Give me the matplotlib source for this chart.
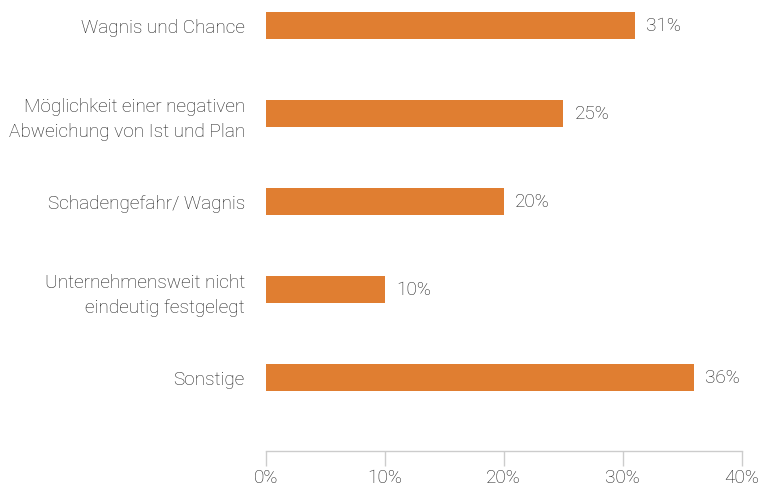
import matplotlib
matplotlib.use("Agg")
import matplotlib.pyplot as plt

categories = [
    "Wagnis und Chance",
    "Möglichkeit einer negativen\nAbweichung von Ist und Plan",
    "Schadengefahr/ Wagnis",
    "Unternehmensweit nicht\neindeutig festgelegt",
    "Sonstige",
]
values = [31, 25, 20, 10, 36]
x_ticks = [0, 10, 20, 30, 40]
x_tick_labels = ["0%", "10%", "20%", "30%", "40%"]

bar_color = "#E07E31"
text_color = "#1E1E1E"
axis_color = "#CCCCCC"

plt.rcParams["font.family"] = ["Roboto", "DejaVu Sans"]
weight = "light"
fsize = 13.7

fig = plt.figure(figsize=(7.79, 4.86), dpi=100)
ax = fig.add_axes([0.341, 0.072, 0.611, 0.928])

pos = list(range(len(categories)))
ax.barh(pos, values, height=0.307, color=bar_color)

ax.set_xlim(0, 40)
ax.set_ylim(4.835, -0.29)

for y, v in zip(pos, values):
    ax.text(v + 0.95, y, f"{v}%", va="center", ha="left",
            fontsize=fsize, color=text_color, fontweight=weight)

ax.set_yticks(pos)
ax.set_yticklabels(categories, fontsize=fsize, color=text_color,
                   fontweight=weight, linespacing=1.55)
ax.tick_params(axis="y", length=0, pad=15)

ax.set_xticks(x_ticks)
ax.set_xticklabels(x_tick_labels, fontsize=fsize, color=text_color,
                   fontweight=weight)
ax.tick_params(axis="x", length=11, width=1, color=axis_color, pad=2)

for side in ["top", "right", "left"]:
    ax.spines[side].set_visible(False)
ax.spines["bottom"].set_color(axis_color)
ax.spines["bottom"].set_linewidth(1)

fig.savefig("out.png", dpi=100)
